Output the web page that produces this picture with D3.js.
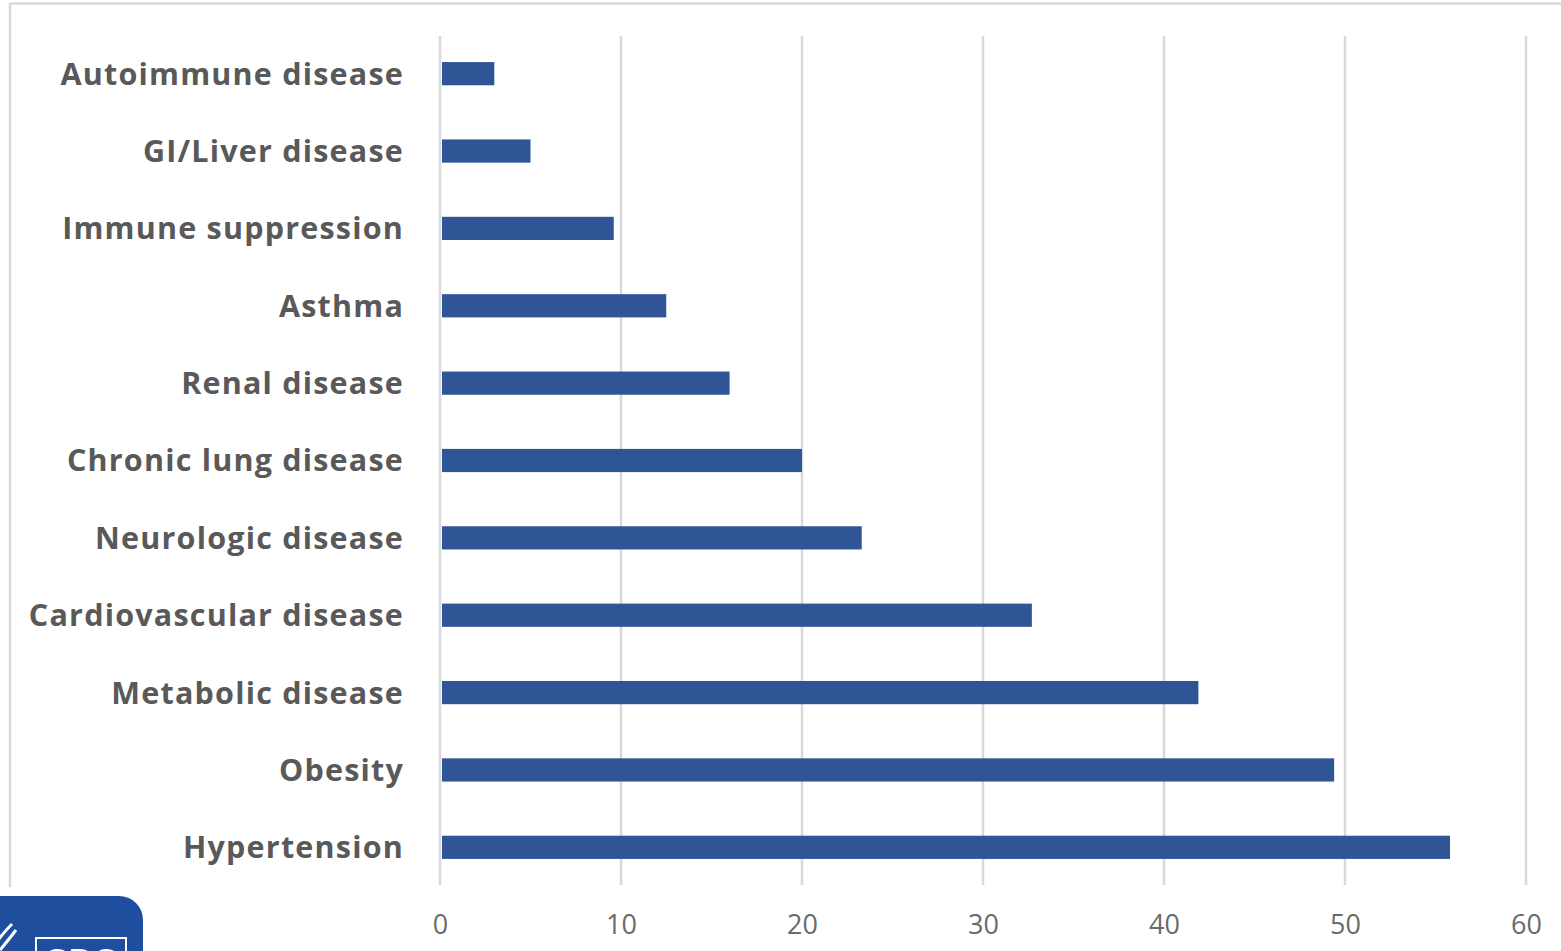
<!DOCTYPE html>
<html>
<head>
<meta charset="utf-8">
<script src="https://cdn.jsdelivr.net/npm/d3@7"></script>
<style>
  html, body { margin: 0; padding: 0; background: #fff; }
  svg { display: block; }
</style>
</head>
<body>
<svg id="chart" width="1561" height="951"></svg>
<script>
// Underlying conditions, percent of cases
const categories = [
  "Autoimmune disease",
  "GI/Liver disease",
  "Immune suppression",
  "Asthma",
  "Renal disease",
  "Chronic lung disease",
  "Neurologic disease",
  "Cardiovascular disease",
  "Metabolic disease",
  "Obesity",
  "Hypertension"
];
const values = [3.0, 5.0, 9.6, 12.5, 16.0, 20.0, 23.3, 32.7, 41.9, 49.4, 55.8];
const tickValues = [0, 10, 20, 30, 40, 50, 60];

const svg = d3.select("#chart");
const plot = { left: 440, right: 1526, top: 36, bottom: 885 };

const x = d3.scaleLinear().domain([0, 60]).range([plot.left, plot.right]);
const y = d3.scaleBand().domain(categories)
  .range([35, 886]).paddingInner(0.70).paddingOuter(0.35);

// chart frame (top and left edges)
svg.append("line")
  .attr("x1", 10).attr("x2", 1561).attr("y1", 3.5).attr("y2", 3.5)
  .attr("stroke", "#d9d9d9").attr("stroke-width", 2.5);
svg.append("line")
  .attr("x1", 10).attr("x2", 10).attr("y1", 3).attr("y2", 887)
  .attr("stroke", "#d9d9d9").attr("stroke-width", 2.5);

// vertical gridlines
svg.append("g")
  .selectAll("line")
  .data(tickValues)
  .join("line")
  .attr("x1", d => x(d)).attr("x2", d => x(d))
  .attr("y1", plot.top).attr("y2", plot.bottom)
  .attr("stroke", "#d9d9d9").attr("stroke-width", 2.5);

// bars
svg.append("g")
  .selectAll("rect")
  .data(categories)
  .join("rect")
  .attr("x", x(0) + 2)
  .attr("y", d => y(d))
  .attr("width", (d, i) => x(values[i]) - x(0) - 2)
  .attr("height", y.bandwidth())
  .attr("fill", "#2f5597");

// category labels
svg.append("g")
  .selectAll("text")
  .data(categories)
  .join("text")
  .attr("x", 404)
  .attr("y", d => y(d) + y.bandwidth() / 2)
  .attr("dy", "0.36em")
  .attr("text-anchor", "end")
  .attr("font-family", "'Open Sans', sans-serif")
  .attr("font-weight", 700)
  .attr("font-size", 30.5)
  .attr("letter-spacing", 1.2)
  .attr("fill", "#595959")
  .text(d => d);

// x-axis tick labels
const xAxis = d3.axisBottom(x).tickValues(tickValues).tickSize(0).tickPadding(0);
const ax = svg.append("g").attr("transform", `translate(0, 915)`).call(xAxis);
ax.select(".domain").remove();
ax.selectAll("text")
  .attr("dy", "0.71em")
  .attr("font-family", "'Open Sans', sans-serif")
  .attr("font-size", 27)
  .attr("fill", "#6a6a6a");

// logo badge in lower-left corner
const logo = svg.append("g");
logo.append("rect")
  .attr("x", -30).attr("y", 896).attr("width", 173).attr("height", 90)
  .attr("rx", 24).attr("fill", "#1f4e9e");
logo.append("rect")
  .attr("x", 36).attr("y", 938).attr("width", 90).attr("height", 40)
  .attr("fill", "none").attr("stroke", "#ffffff").attr("stroke-width", 2);
logo.append("text")
  .attr("x", 81).attr("y", 972)
  .attr("text-anchor", "middle")
  .attr("font-family", "'Liberation Sans', sans-serif")
  .attr("font-weight", 700)
  .attr("font-size", 34)
  .attr("fill", "#ffffff")
  .text("CDC");
logo.append("path")
  .attr("d", "M -2 940 Q 6 930 12 924 M 0 950 Q 10 938 16 930")
  .attr("stroke", "#ffffff").attr("stroke-width", 3).attr("fill", "none");
</script>
</body>
</html>
